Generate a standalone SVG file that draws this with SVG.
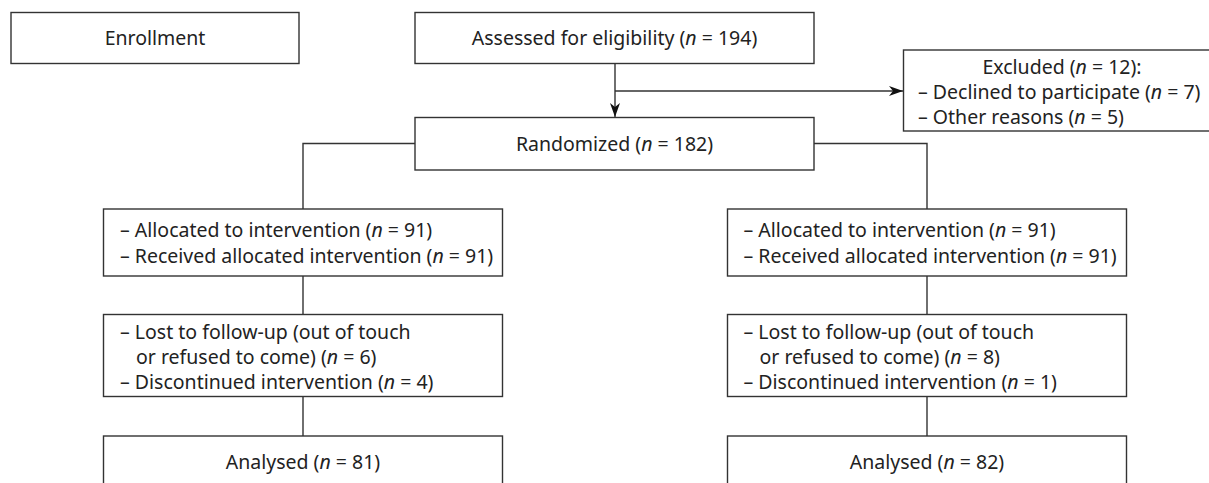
<svg xmlns="http://www.w3.org/2000/svg" width="1209" height="483" viewBox="0 0 1209 483">
<defs>
<style>
.box{fill:#fff;stroke:#333;stroke-width:1.4}
.t{font-family:"Noto Sans","Open Sans",sans-serif;font-size:19.5px;fill:#222}
.c{text-anchor:middle}
.line{fill:none;stroke:#333;stroke-width:1.4}
</style>
<marker id="arr" viewBox="0 0 14 10" refX="14" refY="5" markerWidth="14" markerHeight="10" markerUnits="userSpaceOnUse" orient="auto">
<path d="M0,0 L14,5 L0,10 L4,5 Z" fill="#111"/>
</marker>
</defs>
<rect width="1209" height="483" fill="#fff"/>
<g id="connectors">
<path class="line" d="M615,63.5 V117" marker-end="url(#arr)"/>
<path class="line" d="M615,91 H903" marker-end="url(#arr)"/>
<path class="line" d="M415,143.5 H303 V209"/>
<path class="line" d="M814,143.5 H927 V209"/>
<path class="line" d="M303,276 V314.5"/>
<path class="line" d="M927,276 V314.5"/>
<path class="line" d="M303,396.5 V436"/>
<path class="line" d="M927,396.5 V436"/>
</g>
<g id="enrollment">
<rect class="box" x="11" y="12.5" width="288" height="51"/>
<text class="t c" x="155" y="45">Enrollment</text>
</g>
<g id="assessed">
<rect class="box" x="415" y="12.5" width="399" height="51"/>
<text class="t c" x="614.5" y="45">Assessed for eligibility (<tspan font-style="italic">n</tspan> = 194)</text>
</g>
<g id="excluded">
<rect class="box" x="903.5" y="50" width="330" height="81"/>
<text class="t c" x="1062" y="74">Excluded (<tspan font-style="italic">n</tspan> = 12):</text>
<text class="t" x="918" y="99">– Declined to participate (<tspan font-style="italic">n</tspan> = 7)</text>
<text class="t" x="918" y="124">– Other reasons (<tspan font-style="italic">n</tspan> = 5)</text>
</g>
<g id="randomized">
<rect class="box" x="415" y="117.5" width="399" height="52.5"/>
<text class="t c" x="614.5" y="151">Randomized (<tspan font-style="italic">n</tspan> = 182)</text>
</g>
<g id="alloc-left">
<rect class="box" x="103.5" y="209" width="399" height="67"/>
<text class="t" x="120" y="237">– Allocated to intervention (<tspan font-style="italic">n</tspan> = 91)</text>
<text class="t" x="120" y="263">– Received allocated intervention (<tspan font-style="italic">n</tspan> = 91)</text>
</g>
<g id="alloc-right">
<rect class="box" x="727.5" y="209" width="399" height="67"/>
<text class="t" x="743.5" y="237">– Allocated to intervention (<tspan font-style="italic">n</tspan> = 91)</text>
<text class="t" x="743.5" y="263">– Received allocated intervention (<tspan font-style="italic">n</tspan> = 91)</text>
</g>
<g id="lost-left">
<rect class="box" x="103.5" y="314.5" width="399" height="82"/>
<text class="t" x="120" y="338.5">– Lost to follow-up (out of touch</text>
<text class="t" x="136" y="363.5">or refused to come) (<tspan font-style="italic">n</tspan> = 6)</text>
<text class="t" x="120" y="388.5">– Discontinued intervention (<tspan font-style="italic">n</tspan> = 4)</text>
</g>
<g id="lost-right">
<rect class="box" x="727.5" y="314.5" width="399" height="82"/>
<text class="t" x="743.5" y="338.5">– Lost to follow-up (out of touch</text>
<text class="t" x="759.5" y="363.5">or refused to come) (<tspan font-style="italic">n</tspan> = 8)</text>
<text class="t" x="743.5" y="388.5">– Discontinued intervention (<tspan font-style="italic">n</tspan> = 1)</text>
</g>
<g id="analysed-left">
<rect class="box" x="103.5" y="436" width="399" height="60"/>
<text class="t c" x="303" y="469">Analysed (<tspan font-style="italic">n</tspan> = 81)</text>
</g>
<g id="analysed-right">
<rect class="box" x="727.5" y="436" width="399" height="60"/>
<text class="t c" x="927" y="469">Analysed (<tspan font-style="italic">n</tspan> = 82)</text>
</g>
</svg>
